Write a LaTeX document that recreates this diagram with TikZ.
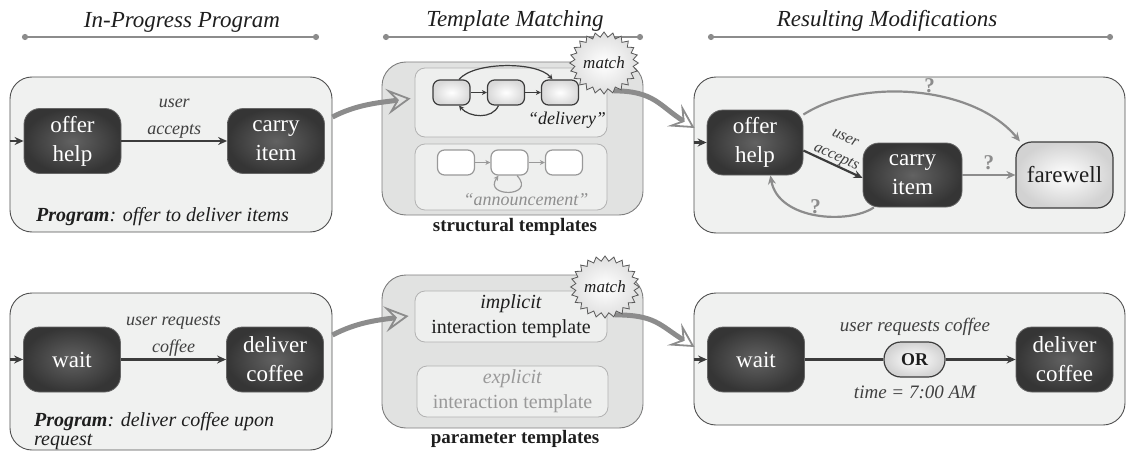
\documentclass[tikz,border=0pt]{standalone}
\usepackage{fontspec}
\setmainfont{Liberation Serif}
\usetikzlibrary{arrows.meta,shapes.symbols,calc}
\definecolor{boxfill}{HTML}{F0F1F0}
\definecolor{boxline}{HTML}{505050}
\definecolor{tmplfill}{HTML}{E1E2E1}
\definecolor{tmplline}{HTML}{7E7E7E}
\definecolor{innerfill}{HTML}{EEEFEE}
\definecolor{innerline}{HTML}{B2B2B2}
\definecolor{arrowgray}{HTML}{8C8C8C}
\definecolor{nodedark}{HTML}{353535}
\definecolor{nodemid}{HTML}{626262}
\definecolor{edgedark}{HTML}{3C3C3C}
\definecolor{txtdark}{HTML}{1E1E1E}
\definecolor{txtgray}{HTML}{8E8E8E}
\newcommand\myfs[2]{\fontsize{#1}{#2}\selectfont}
\pgfdeclarelayer{front}
\pgfsetlayers{main,front}
\begin{document}
\begin{tikzpicture}[x=1pt,y=-1pt,
  hdr/.style={anchor=base, font=\myfs{23}{28}\itshape, text=txtdark, inner sep=0pt},
  hdrline/.style={draw=arrowgray, line width=2pt, {Circle[length=6pt]}-{Circle[length=6pt]}},
  bigbox/.style={draw=boxline, fill=boxfill, rounded corners=22pt, line width=0.9pt, inner sep=0pt},
  tmplouter/.style={draw=tmplline, fill=tmplfill, rounded corners=24pt, line width=0.9pt, inner sep=0pt},
  tmplinner/.style={draw=innerline, fill=innerfill, rounded corners=10pt, line width=0.8pt, inner sep=0pt, align=center},
  state/.style={rounded corners=16pt, draw=gray!80!black, line width=0.8pt, inner color=nodemid, outer color=nodedark,
    text=white, font=\myfs{23}{29}\selectfont, align=center, minimum width=97pt, minimum height=65pt, inner sep=0pt},
  lightstate/.style={state, draw=edgedark, line width=1.2pt, inner color=white, outer color=gray!35, text=txtdark},
  mini/.style={rounded corners=7pt, draw=edgedark, line width=1.2pt, inner color=white, outer color=gray!30,
    minimum width=37pt, minimum height=25pt, inner sep=0pt},
  minigray/.style={mini, draw=gray!80, inner color=white, outer color=white},
  flow/.style={draw=edgedark, line width=2.2pt, -{Stealth[length=9pt,width=8pt,inset=3pt]}},
  plainflow/.style={draw=edgedark, line width=2.2pt},
  qflow/.style={draw=arrowgray, line width=2.2pt, -{Stealth[length=9pt,width=8pt,inset=3pt]}},
  miniflow/.style={draw=edgedark, line width=1.2pt, -{Stealth[length=5pt,width=5pt,inset=1.5pt]}},
  minigrayflow/.style={miniflow, draw=gray!80},
  bigarrow/.style={draw=arrowgray, line width=5pt, -{Stealth[open,length=24pt,width=26pt,inset=10pt,line width=1.8pt]}},
  lbl/.style={font=\myfs{18}{27}\itshape, text=txtdark!85, align=center, inner sep=1pt},
  qmark/.style={font=\myfs{21}{21}\bfseries, text=arrowgray, inner sep=0pt},
  starb/.style={starburst, starburst points=24, starburst point height=5pt, random starburst=0,
    draw=gray!70!black, line width=0.8pt, inner color=white, outer color=gray!25, minimum size=62pt, inner sep=0pt,
    font=\myfs{17}{17}\itshape, text=txtdark},
  prog/.style={font=\myfs{20}{19}\itshape, text=txtdark, align=left, inner sep=0pt},
  caption/.style={font=\myfs{19}{19}\bfseries, text=txtdark, inner sep=0pt}
]
\useasboundingbox (0,0) rectangle (1130,452);

% headers
\node[hdr] (h1) at (182,28) {In-Progress Program};
\coordinate (h1l) at (22,37); \coordinate (h1r) at (319,37);
\draw[hdrline] (h1l) -- (h1r);
\node[hdr] (h2) at (515,27) {Template Matching};
\coordinate (h2l) at (383,37); \coordinate (h2r) at (643,37);
\draw[hdrline] (h2l) -- (h2r);
\node[hdr] (h3) at (887,27) {Resulting Modifications};
\coordinate (h3l) at (708,37); \coordinate (h3r) at (1113,37);
\draw[hdrline] (h3l) -- (h3r);

% ---------- top row ----------
\node[bigbox, minimum width=322pt, minimum height=155pt] (tlbox) at (171,154.5) {};
\node[state] (oh1) at (72.5,141) {offer\\help};
\node[state] (ci1) at (276,141) {carry\\item};
\draw[flow] (tlbox.west |- oh1.west) -- (oh1.west);
\draw[flow] (oh1) -- node[lbl, above=1pt] {user\\accepts} (ci1);
\node[prog, anchor=west] (p1) at (36,217) {\textbf{Program}: offer to deliver items};

\node[tmplouter, minimum width=261pt, minimum height=153pt] (tmo) at (512.5,138.5) {};
\node[tmplinner, minimum width=192pt, minimum height=69pt] (tmi1) at (511,102.5) {};
\node[tmplinner, minimum width=192pt, minimum height=66pt] (tmi2) at (511,177) {};
\node[caption] (cap1) at (515,227) {structural templates};

\node[mini] (d1) at (451.5,92.5) {};
\node[mini] (d2) at (506,92.5) {};
\node[mini] (d3) at (560,92.5) {};
\draw[miniflow] (d1) -- (d2);
\draw[miniflow] (d2) -- (d3);
\draw[miniflow] (d1.60) .. controls +(15,-18) and +(-15,-18) .. (d3.120);
\draw[miniflow] (d2.-120) .. controls +(-6,14) and +(10,12) .. (d1.-60);
\node[font=\myfs{18}{18}\itshape, text=txtdark, inner sep=0pt] (dl) at (567,120) {“delivery”};

\node[minigray] (a1) at (456,162.5) {};
\node[minigray] (a2) at (509.5,162.5) {};
\node[minigray] (a3) at (564,162.5) {};
\draw[minigrayflow] (a1) -- (a2);
\draw[minigrayflow] (a2) -- (a3);
\draw[minigrayflow] (a2.-60) .. controls +(20,22) and +(-16,22) .. (a2.-130);
\node[font=\myfs{18}{18}\itshape, text=txtgray, inner sep=0pt] (al) at (526,200) {“announcement”};

\node[bigbox, minimum width=431pt, minimum height=156pt] (trbox) at (909.5,155) {};
\node[state, minimum width=96pt] (oh2) at (755,142.5) {offer\\help};
\node[state, minimum width=99pt, minimum height=64pt] (ci2) at (912.5,175) {carry\\item};
\node[lightstate, minimum height=66pt] (fw) at (1064.5,175) {farewell};
\draw[flow] (trbox.west |- oh2.west) -- (oh2.west);
\draw[flow] ($(oh2.east)+(0,8)$) -- node[lbl, above=-1pt, sloped, font=\myfs{16}{21}\itshape] {user\\accepts} ($(ci2.west)+(0,3)$);
\draw[qflow] (oh2.30) .. controls +(60,-38) and +(-45,-55) .. (fw.143)
  node[qmark, pos=0.55, above=1pt] {?};
\draw[qflow] (ci2) -- node[qmark, above=4pt] {?} (fw);
\draw[qflow] (ci2.220) .. controls +(-25,17) and +(8,45) .. (oh2.-65)
  node[qmark, pos=0.5, above=0pt] {?};

% ---------- bottom row ----------
\node[bigbox, minimum width=322pt, minimum height=157pt] (blbox) at (171,371.5) {};
\node[state] (w1) at (72,359.5) {wait};
\node[state] (dc1) at (275,359.5) {deliver\\coffee};
\draw[flow] (blbox.west |- w1.west) -- (w1.west);
\draw[flow] (w1) -- node[lbl, above=1pt] {user requests\\coffee} (dc1);
\node[prog, anchor=north west] (p2) at (34,412) {\textbf{Program}: deliver coffee upon\\request};

\node[tmplouter, minimum width=261pt, minimum height=153pt] (bmo) at (512.5,351.5) {};
\node[tmplinner, minimum width=192pt, minimum height=51pt, font=\myfs{20}{25}\selectfont, text=txtdark] (bmi1) at (511,316.5) {\textit{implicit}\\interaction template};
\node[tmplinner, minimum width=191pt, minimum height=51pt, font=\myfs{20}{25}\selectfont, text=txtgray!90] (bmi2) at (512.5,391.5) {\textit{explicit}\\interaction template};
\node[caption] (cap2) at (515,439) {parameter templates};

\node[bigbox, minimum width=431pt, minimum height=132pt] (brbox) at (909.5,359) {};
\node[state] (w2) at (756,359.5) {wait};
\node[state] (dc2) at (1064.5,359.5) {deliver\\coffee};
\node[lightstate, minimum width=61pt, minimum height=35pt, rounded corners=17pt, font=\myfs{18}{18}\bfseries] (or) at (914.5,359.5) {OR};
\draw[flow] (brbox.west |- w2.west) -- (w2.west);
\draw[plainflow] (w2) -- (or);
\draw[flow] (or) -- (dc2);
\node[lbl, font=\myfs{19}{19}\itshape] (l1) at (915,327) {user requests coffee};
\node[lbl, font=\myfs{19}{19}\itshape] (l2) at (915,392) {time = 7:00 AM};

% ---------- stars and big arrows ----------
\begin{pgfonlayer}{front}
\node[starb] (s1) at (604,63) {match};
\node[starb] (s2) at (605,287) {match};
\end{pgfonlayer}
\draw[bigarrow] ($(tlbox.east)+(0,-37.5)$) .. controls +(25,-13) and +(-30,4) .. ($(tmi1.west)+(-4,-4)$);
\draw[bigarrow] (s1.-70) .. controls +(40,0) and +(-35,-22) .. ($(trbox.west)+(1,-27)$);
\draw[bigarrow] ($(blbox.east)+(0,-36.5)$) .. controls +(25,-13) and +(-30,4) .. ($(bmi1.west)+(-6,-0.5)$);
\draw[bigarrow] (s2.-70) .. controls +(40,0) and +(-35,-22) .. ($(brbox.west)+(1,-12)$);
\end{tikzpicture}
\end{document}
